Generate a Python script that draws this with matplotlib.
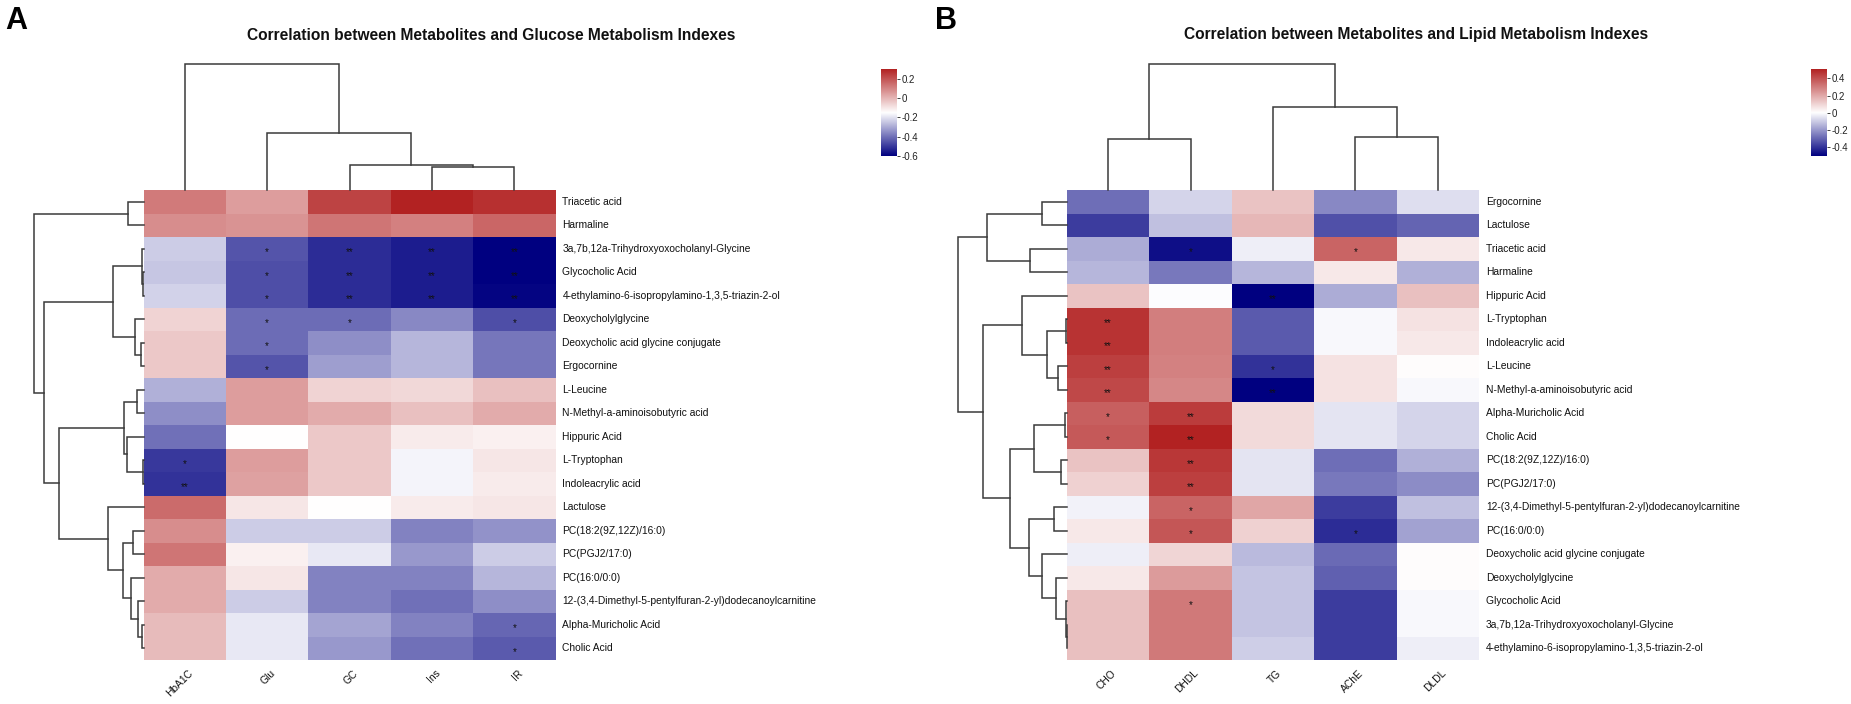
import numpy as np
import matplotlib
matplotlib.use("Agg")
import matplotlib.pyplot as plt
from matplotlib.colors import LinearSegmentedColormap

plt.rcParams['font.family'] = ['Liberation Sans', 'DejaVu Sans']

# ---------------- data: panel A ----------------
cols_A = ["HbA1C", "Glu", "GC", "Ins", "IR"]
rows_A = ["Triacetic acid", "Harmaline", "3a,7b,12a-Trihydroxyoxocholanyl-Glycine",
          "Glycocholic Acid", "4-ethylamino-6-isopropylamino-1,3,5-triazin-2-ol",
          "Deoxycholylglycine", "Deoxycholic acid glycine conjugate", "Ergocornine",
          "L-Leucine", "N-Methyl-a-aminoisobutyric acid", "Hippuric Acid", "L-Tryptophan",
          "Indoleacrylic acid", "Lactulose", "PC(18:2(9Z,12Z)/16:0)", "PC(PGJ2/17:0)",
          "PC(16:0/0:0)", "12-(3,4-Dimethyl-5-pentylfuran-2-yl)dodecanoylcarnitine",
          "Alpha-Muricholic Acid", "Cholic Acid"]
vals_A = [
    [0.12, 0.05, 0.23, 0.30, 0.27],
    [0.08, 0.07, 0.13, 0.11, 0.16],
    [-0.24, -0.45, -0.52, -0.55, -0.60],
    [-0.25, -0.46, -0.52, -0.55, -0.60],
    [-0.23, -0.46, -0.52, -0.55, -0.59],
    [-0.06, -0.41, -0.41, -0.36, -0.46],
    [-0.04, -0.41, -0.35, -0.28, -0.39],
    [-0.04, -0.45, -0.32, -0.28, -0.39],
    [-0.29, 0.05, -0.06, -0.07, -0.02],
    [-0.35, 0.05, 0.02, -0.02, 0.02],
    [-0.40, -0.15, -0.04, -0.11, -0.12],
    [-0.50, 0.05, -0.04, -0.17, -0.10],
    [-0.51, 0.04, -0.04, -0.17, -0.11],
    [0.15, -0.10, -0.15, -0.11, -0.10],
    [0.08, -0.24, -0.24, -0.37, -0.34],
    [0.13, -0.12, -0.19, -0.33, -0.24],
    [0.02, -0.10, -0.37, -0.37, -0.28],
    [0.02, -0.24, -0.37, -0.40, -0.35],
    [-0.01, -0.19, -0.31, -0.37, -0.42],
    [-0.01, -0.19, -0.33, -0.40, -0.44],
]
sig_A = [
    ["", "", "", "", ""],
    ["", "", "", "", ""],
    ["", "*", "**", "**", "**"],
    ["", "*", "**", "**", "**"],
    ["", "*", "**", "**", "**"],
    ["", "*", "*", "", "*"],
    ["", "*", "", "", ""],
    ["", "*", "", "", ""],
    ["", "", "", "", ""],
    ["", "", "", "", ""],
    ["", "", "", "", ""],
    ["*", "", "", "", ""],
    ["**", "", "", "", ""],
    ["", "", "", "", ""],
    ["", "", "", "", ""],
    ["", "", "", "", ""],
    ["", "", "", "", ""],
    ["", "", "", "", ""],
    ["", "", "", "", "*"],
    ["", "", "", "", "*"],
]
# dendrogram merges: (child_a, child_b, height); leaves 0..n-1 in display order
col_link_A = [(3, 4, 23), (2, 5, 25), (1, 6, 57), (0, 7, 126)]
row_link_A = [(3, 4, 0.4), (2, 20, 1.2), (6, 7, 3), (5, 22, 9), (21, 23, 31),
              (0, 1, 16), (8, 9, 7), (11, 12, 0.6), (10, 27, 17), (26, 28, 20),
              (14, 15, 11), (18, 19, 2), (17, 31, 6), (16, 32, 13), (30, 33, 21),
              (13, 34, 36), (29, 35, 85), (24, 36, 100), (25, 37, 110)]
cb_ticks_A = [0.2, 0, -0.2, -0.4, -0.6]

# ---------------- data: panel B ----------------
cols_B = ["CHO", "DHDL", "TG", "AChE", "DLDL"]
rows_B = ["Ergocornine", "Lactulose", "Triacetic acid", "Harmaline", "Hippuric Acid",
          "L-Tryptophan", "Indoleacrylic acid", "L-Leucine", "N-Methyl-a-aminoisobutyric acid",
          "Alpha-Muricholic Acid", "Cholic Acid", "PC(18:2(9Z,12Z)/16:0)", "PC(PGJ2/17:0)",
          "12-(3,4-Dimethyl-5-pentylfuran-2-yl)dodecanoylcarnitine", "PC(16:0/0:0)",
          "Deoxycholic acid glycine conjugate", "Deoxycholylglycine", "Glycocholic Acid",
          "3a,7b,12a-Trihydroxyoxocholanyl-Glycine",
          "4-ethylamino-6-isopropylamino-1,3,5-triazin-2-ol"]
vals_B = [
    [-0.28, -0.08, 0.14, -0.23, -0.06],
    [-0.38, -0.12, 0.17, -0.34, -0.30],
    [-0.16, -0.47, -0.03, 0.36, 0.06],
    [-0.14, -0.26, -0.14, 0.06, -0.15],
    [0.14, 0.00, -0.50, -0.16, 0.15],
    [0.47, 0.30, -0.32, -0.01, 0.07],
    [0.47, 0.30, -0.32, -0.01, 0.06],
    [0.44, 0.29, -0.40, 0.07, 0.01],
    [0.42, 0.28, -0.50, 0.07, -0.01],
    [0.37, 0.45, 0.09, -0.05, -0.08],
    [0.38, 0.51, 0.09, -0.05, -0.08],
    [0.14, 0.46, -0.05, -0.28, -0.15],
    [0.11, 0.44, -0.05, -0.26, -0.22],
    [-0.02, 0.36, 0.21, -0.38, -0.12],
    [0.06, 0.39, 0.11, -0.41, -0.18],
    [-0.03, 0.10, -0.13, -0.29, 0.01],
    [0.06, 0.23, -0.11, -0.31, 0.01],
    [0.15, 0.31, -0.11, -0.38, -0.01],
    [0.15, 0.31, -0.11, -0.38, -0.01],
    [0.15, 0.31, -0.09, -0.38, -0.03],
]
sig_B = [
    ["", "", "", "", ""],
    ["", "", "", "", ""],
    ["", "*", "", "*", ""],
    ["", "", "", "", ""],
    ["", "", "**", "", ""],
    ["**", "", "", "", ""],
    ["**", "", "", "", ""],
    ["**", "", "*", "", ""],
    ["**", "", "**", "", ""],
    ["*", "**", "", "", ""],
    ["*", "**", "", "", ""],
    ["", "**", "", "", ""],
    ["", "**", "", "", ""],
    ["", "*", "", "", ""],
    ["", "*", "", "*", ""],
    ["", "", "", "", ""],
    ["", "", "", "", ""],
    ["", "*", "", "", ""],
    ["", "", "", "", ""],
    ["", "", "", "", ""],
]
col_link_B = [(0, 1, 51), (3, 4, 53), (2, 6, 83), (5, 7, 126)]
row_link_B = [(5, 6, 1), (7, 8, 9), (20, 21, 20), (4, 22, 45), (0, 1, 25), (2, 3, 37),
              (24, 25, 80), (9, 10, 2), (11, 12, 6), (27, 28, 33), (13, 14, 13),
              (18, 19, 0.5), (17, 31, 1.5), (16, 32, 11), (15, 33, 25), (30, 34, 38),
              (29, 35, 57), (23, 36, 84), (26, 37, 109)]
cb_ticks_B = [0.4, 0.2, 0, -0.2, -0.4]

titles = ["Correlation between Metabolites and Glucose Metabolism Indexes",
          "Correlation between Metabolites and Lipid Metabolism Indexes"]
panel_letters = ["A", "B"]

# ---------------- drawing ----------------
W, H = 1851, 704
fig = plt.figure(figsize=(W / 100, H / 100), dpi=100)
cmap = LinearSegmentedColormap.from_list("nwr", ["#000080", "#ffffff", "#B22222"], N=256)
LINE = "#3a3a3a"


def px_axes(x0, y0, x1, y1):
    return fig.add_axes([x0 / W, 1 - y1 / H, (x1 - x0) / W, (y1 - y0) / H])


def draw_dendro(ax, links, n, orient):
    pos = {i: i + 0.5 for i in range(n)}
    hgt = {i: 0.0 for i in range(n)}
    for k, (a, b, h) in enumerate(links):
        xa, xb, ha, hb = pos[a], pos[b], hgt[a], hgt[b]
        if orient == "top":
            ax.plot([xa, xa, xb, xb], [ha, h, h, hb], color=LINE, lw=1.1,
                    solid_joinstyle="miter", clip_on=False)
        else:
            ax.plot([ha, h, h, hb], [xa, xa, xb, xb], color=LINE, lw=1.1,
                    solid_joinstyle="miter", clip_on=False)
        pos[n + k] = (xa + xb) / 2
        hgt[n + k] = h


def panel(hx0, letter_x, title_cx, cb_x, vals, sig, rows, cols, col_link, row_link,
          cb_ticks, title, letter):
    data = np.array(vals)
    vmin, vmax = data.min(), data.max()
    nr, nc = data.shape
    top, bot = 190, 660
    cw = 82.4
    hx1 = hx0 + cw * nc
    ax = px_axes(hx0, top, hx1, bot)
    ax.pcolormesh(np.arange(nc + 1), np.arange(nr + 1), data, cmap=cmap,
                  vmin=vmin, vmax=vmax, edgecolors="none", antialiased=False)
    ax.set_xlim(0, nc)
    ax.set_ylim(nr, 0)
    ax.axis("off")
    for i in range(nr):
        ax.text(nc + 7 / cw, i + 0.5, rows[i], ha="left", va="center",
                fontsize=7.4, color="#111111")
        for j in range(nc):
            if sig[i][j]:
                ax.text(j + 0.5, i + 0.5 + 0.27, sig[i][j], ha="center", va="baseline",
                        fontsize=7, color="#111111")
    for j in range(nc):
        ax.text(j + 0.5 + 3 / cw, nr + 8 / 23.5, cols[j], rotation=45, ha="right",
                va="top", rotation_mode="anchor", fontsize=7.4, color="#111111")
    # column dendrogram
    axc = px_axes(hx0, top - 130, hx1, top)
    draw_dendro(axc, col_link, nc, "top")
    axc.set_xlim(0, nc)
    axc.set_ylim(0, 130)
    axc.axis("off")
    # row dendrogram
    axr = px_axes(hx0 - 130, top, hx0, bot)
    draw_dendro(axr, row_link, nr, "left")
    axr.set_xlim(130, 0)
    axr.set_ylim(nr, 0)
    axr.axis("off")
    # colorbar
    axb = px_axes(cb_x, 69, cb_x + 16, 156)
    grad = np.linspace(vmin, vmax, 256).reshape(-1, 1)
    axb.imshow(grad, cmap=cmap, vmin=vmin, vmax=vmax, aspect="auto", origin="lower",
               extent=[0, 1, vmin, vmax])
    axb.set_xticks([])
    axb.yaxis.tick_right()
    axb.set_yticks(cb_ticks)
    axb.set_yticklabels([f"{t:g}" for t in cb_ticks], fontsize=7)
    axb.tick_params(axis="y", length=2, width=0.6, pad=1.5, colors="#222222")
    for s in axb.spines.values():
        s.set_visible(False)
    axb.set_ylim(vmin, vmax)
    # title and letter
    fig.text(title_cx / W, 1 - 35 / H, title, ha="center", va="center",
             fontsize=11.2, fontweight="bold", color="#111111")
    fig.text(letter_x / W, 1 - 6 / H, letter, ha="left", va="top",
             fontsize=22, fontweight="bold", color="#000000")


panel(143.5, 5, 491, 881, vals_A, sig_A, rows_A, cols_A, col_link_A, row_link_A,
      cb_ticks_A, titles[0], panel_letters[0])
panel(1067, 935, 1416, 1811, vals_B, sig_B, rows_B, cols_B, col_link_B, row_link_B,
      cb_ticks_B, titles[1], panel_letters[1])

fig.savefig("out.png", dpi=100, facecolor="white")
